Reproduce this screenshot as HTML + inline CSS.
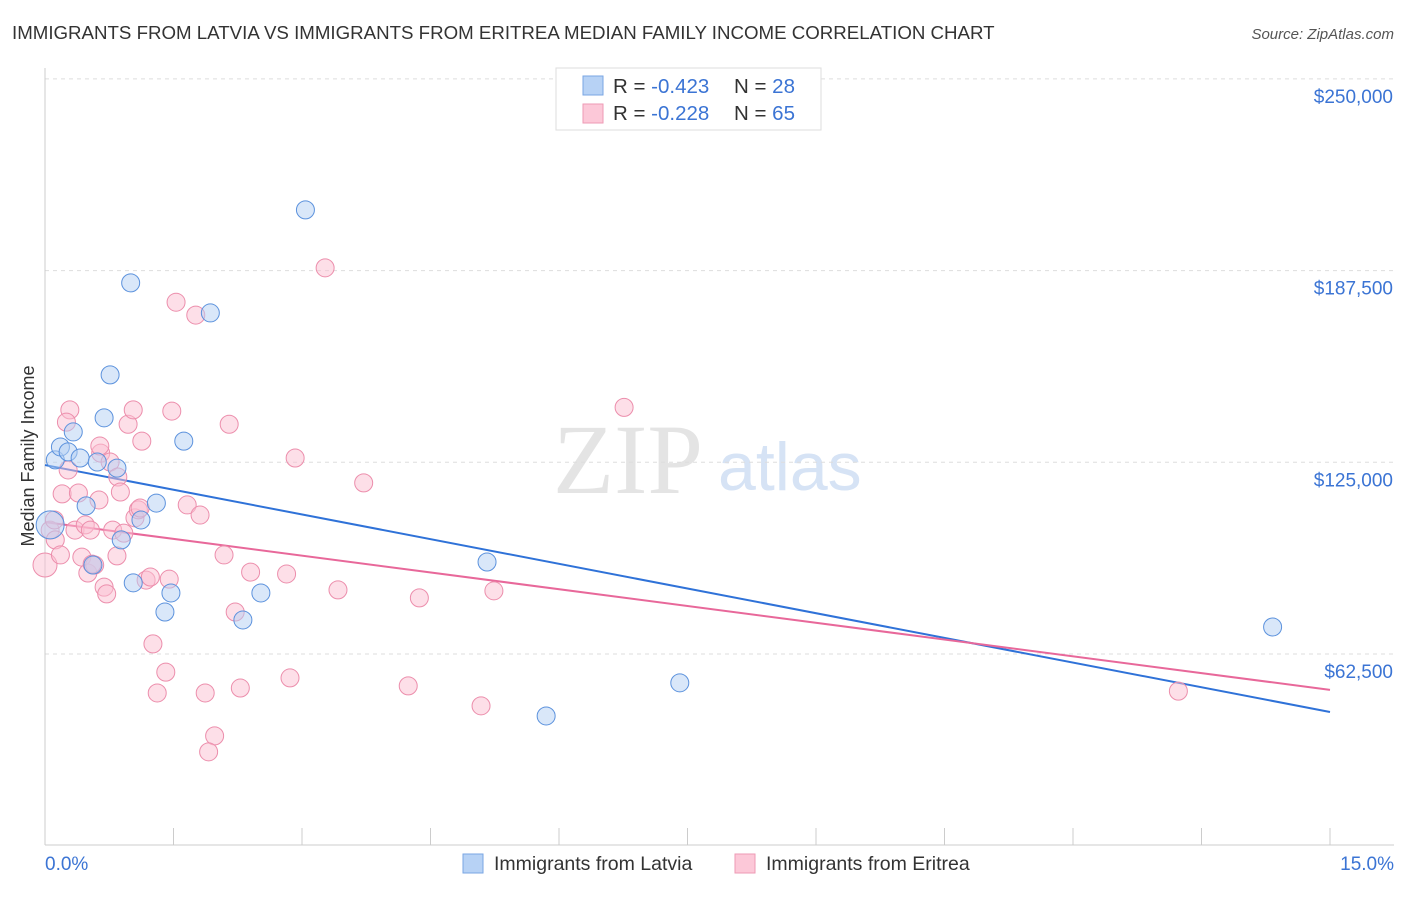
<!DOCTYPE html>
<html><head><meta charset="utf-8"><style>
body{margin:0;background:#fff;font-family:"Liberation Sans",sans-serif}
</style></head><body>
<svg id="c" width="1406" height="892" xmlns="http://www.w3.org/2000/svg" font-family="Liberation Sans, sans-serif">
<text x="12" y="39" font-size="18.7" fill="#333">IMMIGRANTS FROM LATVIA VS IMMIGRANTS FROM ERITREA MEDIAN FAMILY INCOME CORRELATION CHART</text>
<text x="1394" y="39" font-size="15" fill="#555" font-style="italic" text-anchor="end">Source: ZipAtlas.com</text>
<text transform="translate(34,456) rotate(-90)" font-size="18" fill="#333" text-anchor="middle">Median Family Income</text>
<text x="553" y="493" font-size="100" fill="#e4e4e4" font-family="Liberation Serif, serif">ZIP</text>
<text x="718" y="490" font-size="68" fill="#d6e3f5">atlas</text>
<g id="grid"></g><g id="axes"></g><g id="lines"></g><g id="pts"></g>
<g>
<rect x="556" y="68" width="265" height="62" fill="#fff" stroke="#ddd"/>
<rect x="583" y="76" width="20" height="19" fill="#b7d2f5" stroke="#7aa6e3"/>
<rect x="583" y="104" width="20" height="19" fill="#fcc8d8" stroke="#ee9ab4"/>
<text x="613" y="93" font-size="20.5" fill="#333">R = <tspan fill="#3b74d4">-0.423</tspan><tspan x="734">N = </tspan><tspan fill="#3b74d4">28</tspan></text>
<text x="613" y="120" font-size="20.5" fill="#333">R = <tspan fill="#3b74d4">-0.228</tspan><tspan x="734">N = </tspan><tspan fill="#3b74d4">65</tspan></text>
</g>
<g>
<rect x="463" y="854" width="20" height="19" fill="#b7d2f5" stroke="#7aa6e3"/>
<text x="494" y="870" font-size="19.5" fill="#333">Immigrants from Latvia</text>
<rect x="735" y="854" width="20" height="19" fill="#fcc8d8" stroke="#ee9ab4"/>
<text x="766" y="870" font-size="19.5" fill="#333">Immigrants from Eritrea</text>
</g>
</svg>
<script>
const yTicks=[62500,125000,187500,250000];
const yTickLabels=["$62,500","$125,000","$187,500","$250,000"];
const xTickLabels=["0.0%","15.0%"];
const latviaX=[0.06,0.12,0.18,0.27,0.33,0.41,0.48,0.56,0.61,0.69,0.76,0.84,0.89,1.00,1.03,1.12,1.30,1.40,1.47,1.62,1.93,2.31,2.52,3.04,5.16,5.85,7.41,14.33];
const latviaY=[104.6,125.8,130.0,128.4,134.9,126.4,110.8,91.5,125.1,139.5,153.5,123.1,99.7,183.5,85.7,106.2,111.7,76.2,82.4,131.9,173.7,73.6,82.4,207.3,92.5,42.3,53.1,71.3];
const eritreaX=[0.00,0.06,0.12,0.18,0.20,0.27,0.29,0.35,0.39,0.43,0.47,0.50,0.53,0.58,0.63,0.65,0.69,0.72,0.76,0.79,0.84,0.85,0.88,0.92,0.97,1.03,1.05,1.09,1.11,1.13,1.18,1.23,1.26,1.31,1.41,1.45,1.48,1.53,1.66,1.76,1.81,1.87,1.98,1.91,2.09,2.15,2.22,2.28,2.40,2.82,2.86,2.92,3.27,3.42,3.72,4.24,4.37,5.09,5.24,6.76,13.23,0.25,0.55,0.64,0.11];
const eritreaY=[91.5,102.9,99.7,94.8,114.7,122.5,142.1,102.9,115.0,94.1,104.6,88.9,102.9,91.5,112.7,128.0,84.3,82.1,125.1,102.9,94.5,120.2,115.3,101.9,137.4,142.1,106.9,109.5,110.1,131.9,86.6,87.6,65.8,49.8,56.6,86.9,141.7,177.2,111.1,173.0,107.8,49.8,35.8,30.6,94.8,137.4,76.2,51.4,89.2,88.6,54.7,126.4,188.4,83.4,118.3,52.1,80.8,45.6,83.1,142.9,50.4,138.1,91.8,130.3,106.2];
const latviaTrend=[124.1,43.6];
const eritreaTrend=[105.5,50.8];
const NS="http://www.w3.org/2000/svg";
const X=v=>45+v/15*1285;
const Y=k=>845.7-k*1000/62500*191.7;
function mk(p,t,a){const e=document.createElementNS(NS,t);for(const k in a)e.setAttribute(k,a[k]);document.getElementById(p).appendChild(e);return e;}
yTicks.forEach((v,i)=>{
 const g=mk('grid','line',{x1:45,x2:1394,y1:Y(v/1000),y2:Y(v/1000),stroke:'#ddd','stroke-dasharray':'4,4'});
 
 
 const t=mk('grid','text',{x:1393,y:Y(v/1000)+24,'font-size':19,fill:'#3b74d4','text-anchor':'end'});
 t.textContent=yTickLabels[i];
 
 
});
mk('axes','line',{x1:45,x2:45,y1:68,y2:845,stroke:'#ccc'});
const xa=mk('axes','line',{x1:45,x2:1394,y1:845,y2:845,stroke:'#ccc'});


for(let i=0;i<=10;i++){mk('axes','line',{x1:X(i*1.5),x2:X(i*1.5),y1:828,y2:845,stroke:'#ccc'});}
[[0,45,'start'],[15,1394,'end']].forEach((d,i)=>{
 const t=mk('axes','text',{x:d[1],y:870,'font-size':19,fill:'#3b74d4','text-anchor':d[2]});
 t.textContent=xTickLabels[i];
 
 
});
function pts(xs,ys,fill,stroke,name){
 xs.forEach((x,i)=>{
  const r=i===0&&xs[0]<0.1?(name==='latvia-point'?14:12):9;
  const c=mk('pts','circle',{cx:X(x),cy:Y(ys[i]),r:r,fill:fill,'fill-opacity':0.5,stroke:stroke,'stroke-width':1});
  
  
 });
}
pts(eritreaX,eritreaY,'#fcc0d2','#ec8eac','eritrea-point');
pts(latviaX,latviaY,'#b3cff4','#5c92dd','latvia-point');
const l1=mk('lines','line',{x1:X(0),x2:X(15),y1:Y(latviaTrend[0]),y2:Y(latviaTrend[1]),stroke:'#2f72d8','stroke-width':2});


const l2=mk('lines','line',{x1:X(0),x2:X(15),y1:Y(eritreaTrend[0]),y2:Y(eritreaTrend[1]),stroke:'#e8689a','stroke-width':2});


</script>
</body></html>
